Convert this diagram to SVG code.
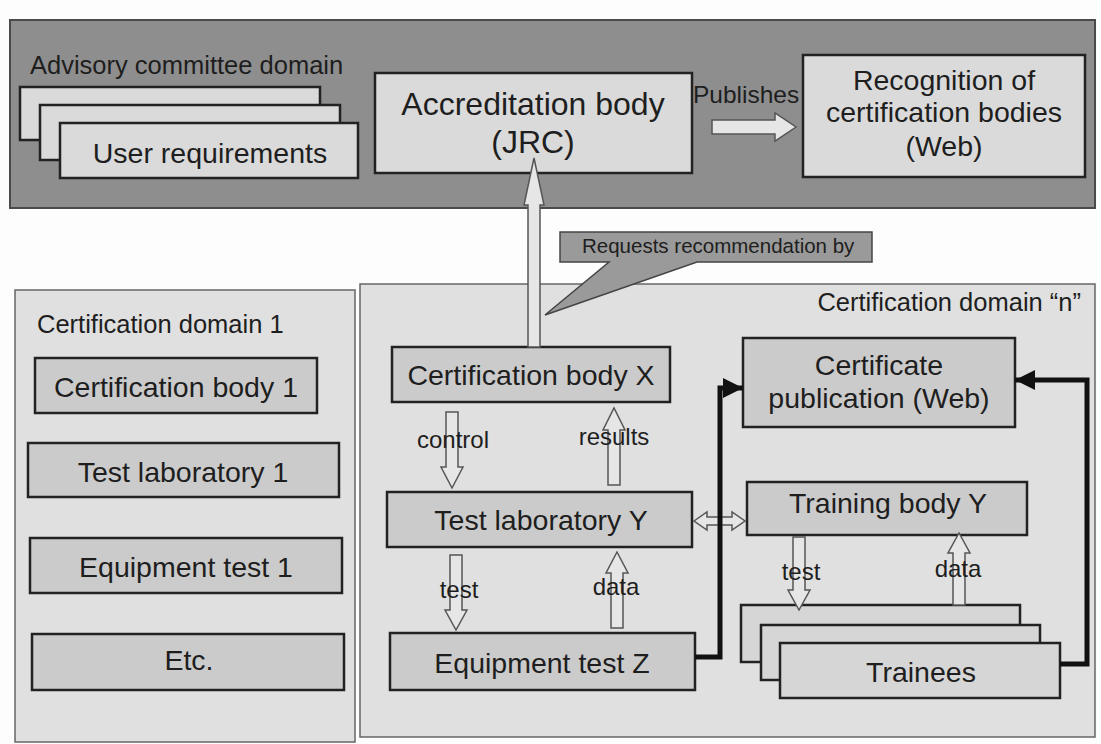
<svg xmlns="http://www.w3.org/2000/svg" width="1101" height="744" viewBox="0 0 1101 744">
<defs>
<style>
.t{font-family:"Liberation Sans",Arial,sans-serif;fill:#1e1e1e}
.band{fill:#8e8e8e;stroke:#4a4a4a;stroke-width:2}
.panel{fill:#e0e0e0;stroke:#666;stroke-width:1.5}
.tbox{fill:#dadada;stroke:#222;stroke-width:2.5}
.nbox{fill:#cbcbcb;stroke:#222;stroke-width:2.5}
.card{fill:#d6d6d6;stroke:#222;stroke-width:2.5}
.hol{fill:#e6e6e6;stroke:#555;stroke-width:1.5;stroke-linejoin:miter}
.thick{fill:none;stroke:#111;stroke-width:5;stroke-linejoin:miter}
</style>
<marker id="ah" markerUnits="userSpaceOnUse" markerWidth="22" markerHeight="22" refX="20" refY="10" orient="auto">
<path d="M0,0 L20,10 L0,20 z" fill="#111"/>
</marker>
</defs>
<rect width="1101" height="744" fill="#fdfdfd"/>

<g id="advisory-domain">
<rect class="band" x="10" y="20" width="1085" height="188"/>
<text class="t" x="30" y="74" font-size="25.5">Advisory committee domain</text>
</g>

<g id="user-requirements">
<rect class="tbox" x="20" y="87" width="300" height="53"/>
<rect class="tbox" x="40" y="105" width="300" height="55"/>
<rect class="tbox" x="60" y="123" width="298" height="55"/>
<text class="t" x="210" y="163" font-size="28.5" text-anchor="middle">User requirements</text>
</g>

<g id="accreditation-body">
<rect class="tbox" x="375" y="73" width="317" height="100"/>
<text class="t" x="533" y="115" font-size="32" text-anchor="middle">Accreditation body</text>
<text class="t" x="533" y="153" font-size="32" text-anchor="middle">(JRC)</text>
</g>

<g id="recognition">
<rect class="tbox" x="803" y="55" width="282" height="122"/>
<text class="t" x="944" y="90" font-size="28.5" text-anchor="middle">Recognition of</text>
<text class="t" x="944" y="122" font-size="28.5" text-anchor="middle">certification bodies</text>
<text class="t" x="944" y="156" font-size="28.5" text-anchor="middle">(Web)</text>
</g>

<g id="domain-1">
<rect class="panel" x="15" y="290" width="340" height="452"/>
<text class="t" x="37" y="333" font-size="25.5">Certification domain 1</text>
</g>
<g id="certification-body-1">
<rect class="nbox" x="35" y="358" width="282" height="55"/>
<text class="t" x="176" y="397" font-size="28.5" text-anchor="middle">Certification body 1</text>
</g>
<g id="test-laboratory-1">
<rect class="nbox" x="28" y="443" width="311" height="54"/>
<text class="t" x="183" y="482" font-size="28.5" text-anchor="middle">Test laboratory 1</text>
</g>
<g id="equipment-test-1">
<rect class="nbox" x="30" y="538" width="312" height="55"/>
<text class="t" x="186" y="577" font-size="28.5" text-anchor="middle">Equipment test 1</text>
</g>
<g id="etc">
<rect class="nbox" x="32" y="634" width="312" height="56"/>
<text class="t" x="189" y="670" font-size="28.5" text-anchor="middle">Etc.</text>
</g>

<g id="domain-n">
<rect class="panel" x="360" y="284" width="735" height="453"/>
<text class="t" x="1081" y="311" font-size="25.5" text-anchor="end">Certification domain “n”</text>
</g>

<g id="certification-body-x">
<rect class="nbox" x="392" y="347" width="278" height="55"/>
<text class="t" x="531" y="385" font-size="28.5" text-anchor="middle">Certification body X</text>
</g>
<g id="test-laboratory-y">
<rect class="nbox" x="387" y="492" width="305" height="55"/>
<text class="t" x="541" y="530" font-size="28.5" text-anchor="middle">Test laboratory Y</text>
</g>
<g id="equipment-test-z">
<rect class="nbox" x="390" y="633" width="305" height="57"/>
<text class="t" x="542" y="673" font-size="28.5" text-anchor="middle">Equipment test Z</text>
</g>
<g id="certificate-publication">
<rect class="nbox" x="743" y="338" width="272" height="89"/>
<text class="t" x="879" y="375" font-size="28.5" text-anchor="middle">Certificate</text>
<text class="t" x="879" y="408" font-size="28.5" text-anchor="middle">publication (Web)</text>
</g>
<g id="training-body-y">
<rect class="nbox" x="747" y="482" width="280" height="53"/>
<text class="t" x="888" y="513" font-size="28.5" text-anchor="middle">Training body Y</text>
</g>
<g id="trainees">
<rect class="card" x="741" y="605" width="279" height="57"/>
<rect class="card" x="761" y="625" width="279" height="55"/>
<rect class="card" x="780" y="643" width="280" height="55"/>
<text class="t" x="921" y="682" font-size="28.5" text-anchor="middle">Trainees</text>
</g>

<g id="callout">
<path d="M560,232 H872 V262 H697 L545,315 L609,262 H560 Z" fill="#9a9a9a" stroke="#444" stroke-width="1.5"/>
<text class="t" x="582" y="253" font-size="20.5">Requests recommendation by</text>
</g>

<g id="connectors">
<polygon class="hol" points="528,347 540,347 540,205 544,205 534,158 524,205 528,205"/>
<polygon class="hol" points="712,120 775,120 775,113 796,127 775,141 775,134 712,134"/>
<text class="t" x="693" y="103" font-size="24.5">Publishes</text>
<polygon class="hol" points="446,412 458,412 458,467 463,467 452,488 441,467 446,467"/>
<text class="t" x="453" y="448" font-size="24" text-anchor="middle">control</text>
<polygon class="hol" points="608,485 620,485 620,430 625,430 614,408 603,430 608,430"/>
<text class="t" x="614" y="445" font-size="24" text-anchor="middle">results</text>
<polygon class="hol" points="450,555 462,555 462,610 467,610 456,630 445,610 450,610"/>
<text class="t" x="459" y="598" font-size="24" text-anchor="middle">test</text>
<polygon class="hol" points="611,628 623,628 623,573 628,573 617,552 606,573 611,573"/>
<text class="t" x="616" y="595" font-size="24" text-anchor="middle">data</text>
<polygon class="hol" points="694,521 707,512 707,517 732,517 732,512 745,521 732,530 732,525 707,525 707,530"/>
<polygon class="hol" points="793,537 805,537 805,590 810,590 799,610 788,590 793,590"/>
<text class="t" x="801" y="580" font-size="24" text-anchor="middle">test</text>
<polygon class="hol" points="953,605 965,605 965,553 970,553 959,533 948,553 953,553"/>
<text class="t" x="958" y="577" font-size="24" text-anchor="middle">data</text>
<path class="thick" d="M695,657 H720 V388 H743" marker-end="url(#ah)"/>
<path class="thick" d="M1060,664 H1087 V380 H1015" marker-end="url(#ah)"/>
</g>
</svg>
